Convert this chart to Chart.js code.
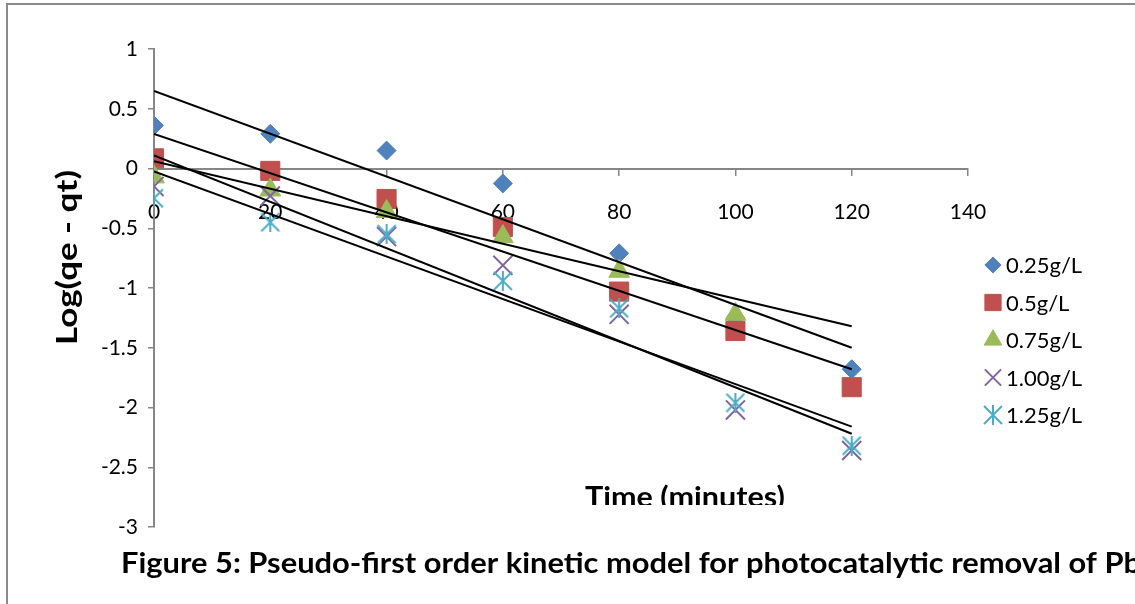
<!DOCTYPE html>
<html>
<head>
<meta charset="utf-8">
<script src="https://cdn.jsdelivr.net/npm/chart.js@4.4.0/dist/chart.umd.min.js"></script>
<style>
  body { margin: 0; background: #fff; }
  #wrap { width: 1135px; height: 604px; overflow: hidden; }
</style>
</head>
<body>
<div id="wrap"><canvas id="chart-canvas" width="1135" height="604"></canvas></div>
<script>
'use strict';

// time (minutes)
const times = [0, 20, 40, 60, 80, 100, 120];
const xTicks = [0, 20, 40, 60, 80, 100, 120, 140];
const yTicks = [1, 0.5, 0, -0.5, -1, -1.5, -2, -2.5, -3];

// Log(qe - qt) per catalyst dose
const dose025 = [0.36, 0.29, 0.15, -0.125, -0.71, -1.25, -1.68];
const dose050 = [0.085, -0.02, -0.255, -0.49, -1.03, -1.36, -1.83];
const dose075 = [-0.07, -0.18, -0.36, -0.57, -0.86, -1.22];
const dose100 = [-0.15, -0.23, -0.57, -0.81, -1.22, -2.02, -2.36];
const dose125 = [-0.25, -0.45, -0.55, -0.94, -1.17, -1.96, -2.32];

// linear trendlines, value at t = 0 and t = 120
const trendX = [0, 120];
const trend025 = [0.65, -1.50];
const trend050 = [0.29, -1.68];
const trend075 = [0.06, -1.32];
const trend100 = [0.11, -2.22];
const trend125 = [-0.025, -2.16];

const seriesNames = ['0.25g/L', '0.5g/L', '0.75g/L', '1.00g/L', '1.25g/L'];
const seriesColors = ['#4F81BD', '#C0504D', '#9BBB59', '#8064A2', '#4BACC6'];

// excel style star marker (x plus a vertical bar)
function makeStar(color) {
    const c = document.createElement('canvas');
    c.width = 20;
    c.height = 20;
    const g = c.getContext('2d');
    g.strokeStyle = color;
    g.lineWidth = 2;
    g.beginPath();
    g.moveTo(1, 1); g.lineTo(19, 19);
    g.moveTo(19, 1); g.lineTo(1, 19);
    g.moveTo(10, 0); g.lineTo(10, 20);
    g.stroke();
    return c;
}

const markers = [
    { pointStyle: 'rectRot', radius: 9.5 },
    { pointStyle: 'rect', radius: 13.5 },
    { pointStyle: 'triangle', radius: 12 },
    { pointStyle: 'crossRot', radius: 13.5 },
    { pointStyle: makeStar(seriesColors[4]), radius: 10 }
];

const values = [dose025, dose050, dose075, dose100, dose125];
const trends = [trend025, trend050, trend075, trend100, trend125];

const datasets = [];
values.forEach((vals, i) => {
    datasets.push({
        label: seriesNames[i],
        data: vals.map((v, j) => ({ x: times[j], y: v })),
        pointStyle: markers[i].pointStyle,
        pointRadius: markers[i].radius,
        pointHoverRadius: markers[i].radius,
        backgroundColor: seriesColors[i],
        borderColor: seriesColors[i],
        pointBorderWidth: i >= 3 ? 2 : 1,
        showLine: false,
        order: 10 - i
    });
});
trends.forEach((t, i) => {
    datasets.push({
        label: 'Linear (' + seriesNames[i] + ')',
        data: trendX.map((x, j) => ({ x: x, y: t[j] })),
        showLine: true,
        pointRadius: 0,
        borderColor: '#000',
        borderWidth: 2,
        fill: false,
        order: 0
    });
});

const FONT = 'Lato, "Noto Sans", sans-serif';

// draw text stretched sideways to a given width (Calibri is narrower than Lato)
function fitText(ctx, text, x, y, width) {
    const w = ctx.measureText(text).width;
    ctx.save();
    ctx.translate(x, y);
    ctx.scale(width / w, 1);
    ctx.fillText(text, 0, 0);
    ctx.restore();
}

// titles, caption, legend and the frame
const extras = {
    id: 'extras',
    afterDraw(chart) {
        const ctx = chart.ctx;
        ctx.save();
        // frame
        ctx.fillStyle = '#8a8a8a';
        ctx.fillRect(6, 3, 1135 - 6, 2);
        ctx.fillRect(6, 3, 2, 604);

        ctx.fillStyle = '#000';
        ctx.textAlign = 'left';
        ctx.textBaseline = 'alphabetic';
        // y title
        ctx.save();
        ctx.translate(77, 345);
        ctx.rotate(-Math.PI / 2);
        ctx.font = 'bold 28px ' + FONT;
        fitText(ctx, 'Log(qe - qt)', 0, 0, 175);
        ctx.restore();

        // x title, cut at the bottom of the plot frame
        ctx.save();
        ctx.beginPath();
        ctx.rect(0, 0, 1135, 505);
        ctx.clip();
        ctx.font = 'bold 28px ' + FONT;
        fitText(ctx, 'Time (minutes)', 585, 507, 200);
        ctx.restore();

        // caption
        ctx.font = 'bold 28px ' + FONT;
        fitText(ctx, 'Figure 5: Pseudo-first order kinetic model for photocatalytic removal of Pb', 121, 573, 1020);

        // legend
        const rowY = [265, 302.5, 340, 377.5, 415];
        ctx.font = '22px ' + FONT;
        ctx.textBaseline = 'middle';
        seriesNames.forEach((name, i) => {
            ctx.fillStyle = seriesColors[i];
            ctx.strokeStyle = seriesColors[i];
            ctx.lineWidth = i >= 3 ? 2 : 1;
            Chart.helpers.drawPoint(ctx, {
                pointStyle: markers[i].pointStyle,
                radius: markers[i].radius * 0.85,
                rotation: 0,
                borderWidth: i >= 3 ? 2 : 1
            }, 993, rowY[i]);
            ctx.fillStyle = '#000';
            ctx.fillText(name, 1006, rowY[i] + 1);
        });
        ctx.restore();
    }
};

const ctx = document.getElementById('chart-canvas').getContext('2d');
const chart = new Chart(ctx, {
    type: 'scatter',
    data: { datasets: datasets },
    options: {
        responsive: false,
        animation: false,
        layout: { padding: { top: 49, right: 167, bottom: 77, left: 0 } },
        plugins: {
            legend: { display: false },
            tooltip: { enabled: false }
        },
        scales: {
            x: {
                type: 'linear',
                position: { y: 0 },
                min: 0,
                max: 140,
                afterBuildTicks: (s) => { s.ticks = xTicks.map((v) => ({ value: v })); },
                afterFit: (s) => { s.height = 0; },
                grid: { drawOnChartArea: false, tickLength: 6, color: '#868686', lineWidth: 1.5 },
                border: { color: '#868686', width: 2 },
                ticks: {
                    color: '#000',
                    font: { family: FONT, size: 21 },
                    padding: 25,
                    maxRotation: 0,
                    autoSkip: false
                }
            },
            y: {
                type: 'linear',
                position: 'left',
                min: -3,
                max: 1,
                afterBuildTicks: (s) => { s.ticks = yTicks.map((v) => ({ value: v })); },
                afterFit: (s) => { s.width = 154; },
                grid: { drawOnChartArea: false, tickLength: 6, color: '#868686', lineWidth: 1.5 },
                border: { color: '#868686', width: 2 },
                ticks: {
                    color: '#000',
                    font: { family: FONT, size: 21 },
                    padding: 10,
                    callback: (v) => String(v)
                }
            }
        }
    },
    plugins: [extras]
});
</script>
</body>
</html>
